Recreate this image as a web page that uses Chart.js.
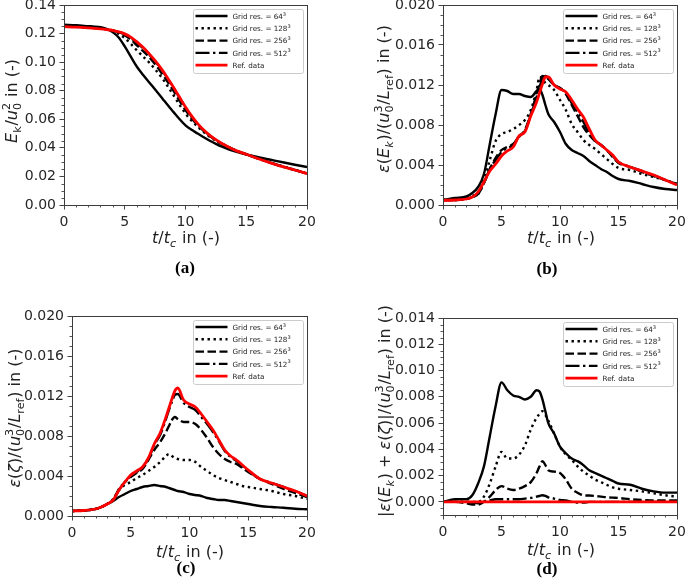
<!DOCTYPE html>
<html>
<head>
<meta charset="utf-8">
<script src="https://cdn.jsdelivr.net/npm/chart.js@4.4.1/dist/chart.umd.min.js"></script>
<style>
  body { margin: 0; background: #fff; }
  #fig { position: relative; width: 685px; height: 585px; overflow: hidden; }
  #fig canvas { position: absolute; }
</style>
</head>
<body>
<div id="fig">
  <canvas id="pa" width="342" height="290" style="left:0;top:0"></canvas>
  <canvas id="pb" width="343" height="290" style="left:342px;top:0"></canvas>
  <canvas id="pc" width="342" height="295" style="left:0;top:290px"></canvas>
  <canvas id="pd" width="343" height="295" style="left:342px;top:290px"></canvas>
</div>
<script>
// time samples t/t_c shared by every panel
const tSteps = [0, 1, 2, 2.5, 3, 3.5, 4, 4.5, 5, 5.5, 6, 6.5, 7, 7.5, 8, 8.25, 8.5, 8.75, 9,
  9.5, 10, 10.5, 11, 11.5, 12, 12.5, 13, 13.5, 14, 14.5, 15, 16, 17, 18, 19, 20];

// (a) kinetic energy
const kinE64  = [0.1262,0.1258,0.1252,0.1249,0.1244,0.1232,0.1210,0.1172, 0.1110,0.1038,0.0968,0.0912,0.0860,0.0808,0.0756, 0.0729,0.0703,0.0677,0.0652, 0.0602,0.0558,0.0526,0.0500,0.0474,0.0450,0.0428,0.0408,0.0391,0.0377,0.0365,0.0354, 0.0335,0.0317,0.0299,0.0282,0.0266];
const kinE128 = [0.1255,0.1252,0.1248,0.1245,0.1240,0.1232,0.1220,0.1198, 0.1168,0.1128,0.1082,0.1040,0.0998,0.0950,0.0897, 0.0868,0.0836,0.0803,0.0770, 0.0703,0.0640,0.0590,0.0548,0.0510,0.0477,0.0450,0.0426,0.0404,0.0385,0.0369,0.0355, 0.0326,0.0297,0.0271,0.0246,0.0222];
const kinE256 = [0.1252,0.1249,0.1245,0.1242,0.1238,0.1231,0.1222,0.1208, 0.1188,0.1158,0.1118,0.1078,0.1035,0.0985,0.0928, 0.0898,0.0866,0.0833,0.0800, 0.0730,0.0665,0.0608,0.0560,0.0518,0.0483,0.0454,0.0428,0.0406,0.0387,0.0370,0.0356, 0.0325,0.0296,0.0270,0.0245,0.0221];
const kinE512 = [0.1250,0.1247,0.1242,0.1239,0.1235,0.1230,0.1222,0.1210, 0.1195,0.1170,0.1135,0.1097,0.1054,0.1005,0.0950, 0.0920,0.0888,0.0855,0.0822, 0.0752,0.0682,0.0620,0.0566,0.0523,0.0486,0.0456,0.0429,0.0407,0.0387,0.0370,0.0355, 0.0324,0.0295,0.0268,0.0245,0.0220];
const kinERef = [0.1248,0.1245,0.1240,0.1237,0.1233,0.1228,0.1222,0.1212, 0.1198,0.1175,0.1142,0.1104,0.1060,0.1010,0.0955, 0.0925,0.0893,0.0860,0.0826, 0.0756,0.0686,0.0624,0.0570,0.0525,0.0488,0.0457,0.0430,0.0407,0.0387,0.0370,0.0355, 0.0324,0.0295,0.0268,0.0245,0.0220];

// (b) dissipation from kinetic energy
const dissK64  = [0.0005,0.0007,0.00085,0.0012,0.0018,0.0031,0.0061,0.0091, 0.0115,0.0114,0.0111,0.0111,0.0109,0.0108,0.0114, 0.0116,0.0110,0.0100,0.0091, 0.0083,0.0073,0.0061,0.0055,0.0052,0.0049,0.0044,0.0040,0.0036,0.0033,0.0029,0.0026, 0.0024,0.0021,0.0018,0.0016,0.0015];
const dissK128 = [0.0005,0.0006,0.0007,0.0009,0.0013,0.0025,0.0045,0.0064, 0.0071,0.0073,0.0076,0.0080,0.0085,0.0095,0.0115, 0.0128,0.0126,0.0122,0.0120, 0.0115,0.0105,0.0095,0.0081,0.0073,0.0065,0.0060,0.0056,0.0051,0.0046,0.0041,0.0037, 0.0035,0.0031,0.0028,0.0025,0.0021];
const dissK256 = [0.0005,0.0005,0.0006,0.0008,0.0011,0.0022,0.0036,0.0047, 0.0055,0.0058,0.0061,0.0068,0.0075,0.0091,0.0111, 0.0121,0.0129,0.0128,0.0126, 0.0120,0.0117,0.0111,0.0100,0.0089,0.0078,0.0070,0.0064,0.0060,0.0055,0.0048,0.0042, 0.0038,0.0033,0.0029,0.0025,0.0021];
const dissK512 = [0.0005,0.0005,0.0006,0.0008,0.0011,0.0022,0.0036,0.0045, 0.0053,0.0057,0.0060,0.0069,0.0074,0.0090,0.0108, 0.0118,0.0126,0.0129,0.0127, 0.0120,0.0117,0.0112,0.0102,0.0093,0.0083,0.0072,0.0064,0.0060,0.0055,0.0049,0.0043, 0.0038,0.0034,0.0030,0.0025,0.0021];
const dissKRef = [0.00047,0.0005,0.0006,0.0008,0.0013,0.0023,0.0034,0.0041, 0.0049,0.0054,0.0058,0.0069,0.0073,0.0089,0.0103, 0.0112,0.0121,0.0128,0.0128, 0.0120,0.0116,0.0113,0.0105,0.0096,0.0088,0.0076,0.0065,0.0060,0.0055,0.0050,0.0043, 0.0038,0.0034,0.0030,0.0025,0.0020];

// (c) dissipation from enstrophy
const dissZ64  = [0.0005,0.00055,0.0007,0.0009,0.0012,0.0015,0.0019,0.0022, 0.0025,0.0027,0.0029,0.0030,0.0031,0.0030,0.0029, 0.0028,0.0027,0.0026,0.0025, 0.0024,0.0022,0.0021,0.0020,0.0018,0.0017,0.0016,0.0016,0.0015,0.0014,0.0013,0.0012, 0.0010,0.0009,0.00083,0.00073,0.00067];
const dissZ128 = [0.0005,0.00055,0.0007,0.0009,0.0012,0.0017,0.0026,0.0031, 0.0034,0.0038,0.0041,0.0045,0.0049,0.0054,0.0060, 0.0062,0.0060,0.0058,0.0057, 0.0056,0.0056,0.0054,0.0049,0.0045,0.0041,0.0038,0.0036,0.0034,0.0032,0.0030,0.0029, 0.0027,0.0025,0.0022,0.0020,0.0017];
const dissZ256 = [0.0005,0.00055,0.0007,0.0009,0.0012,0.0016,0.0027,0.0034, 0.0039,0.0043,0.0047,0.0056,0.0066,0.0074,0.0084, 0.0090,0.0096,0.0099,0.0097, 0.0094,0.0094,0.0092,0.0086,0.0078,0.0069,0.0062,0.0057,0.0054,0.0052,0.0048,0.0044, 0.0037,0.0032,0.0027,0.0023,0.0019];
const dissZ512 = [0.0005,0.00055,0.0007,0.0009,0.0012,0.0016,0.0026,0.0034, 0.0040,0.0044,0.0049,0.0057,0.0071,0.0081,0.0097, 0.0106,0.0114,0.0121,0.0122, 0.0113,0.0109,0.0106,0.0099,0.0092,0.0084,0.0075,0.0065,0.0059,0.0055,0.0050,0.0045, 0.0037,0.0033,0.0029,0.0025,0.0020];
const dissZRef = [0.0005,0.00055,0.0007,0.0009,0.0012,0.0016,0.0026,0.0034, 0.0041,0.0045,0.0049,0.0058,0.0072,0.0083,0.0099, 0.0108,0.0117,0.0125,0.0128, 0.0116,0.0112,0.0109,0.0102,0.0094,0.0086,0.0076,0.0066,0.0060,0.0056,0.0051,0.0046, 0.0037,0.0033,0.0029,0.0025,0.0020];

// (d) |eps(Ek) + eps(zeta)|
const err64  = [0,0.0002,0.0002,0.0005,0.0014,0.0027,0.0050,0.0073, 0.0091,0.0085,0.0081,0.0080,0.0078,0.0080,0.0085, 0.0084,0.0078,0.0069,0.0060, 0.0052,0.0042,0.0037,0.0033,0.0031,0.0028,0.0024,0.0022,0.0020,0.0018,0.0016,0.0014, 0.0013,0.0010,0.0008,0.0007,0.0007];
const err128 = [0,0,0,0,0,0.0004,0.0014,0.0027, 0.0038,0.0033,0.0033,0.0036,0.0043,0.0055,0.0064, 0.0067,0.0069,0.0066,0.0062, 0.0052,0.0042,0.0036,0.0032,0.0027,0.0023,0.0020,0.0017,0.0015,0.0013,0.0011,0.0010, 0.0009,0.0008,0.00066,0.0005,0.0004];
const err256 = [0,0,-0.0001,-0.0002,-0.0002,0,0.0004,0.0009, 0.0012,0.0010,0.0009,0.0010,0.0012,0.0015,0.0022, 0.0027,0.0031,0.0028,0.0024, 0.0023,0.0022,0.0017,0.0010,0.0007,0.0005,0.00048,0.00045,0.0004,0.00035,0.00032,0.0003, 0.0002,0.00015,0.0001,0.0001,0.0001];
const err512 = [0,0,0,-0.00005,-0.0001,0,0.0001,0.0002, 0.0002,0.0002,0.0002,0.0002,0.00025,0.0003,0.0004, 0.00045,0.0005,0.00045,0.00035, 0.00025,0.00015,0.0001,0,-0.00005,-0.00005,0,0,0,0,0,0, 0,0,0,0,0];
const errRef = [0,0,0,0,0,0,0,0, 0,0,0,0,0,0,0, 0,0,0,0, 0,0,0,0,0,0,0,0,0,0,0,0, 0,0,0,0,0];

const seriesNames = ['64', '128', '256', '512', 'Ref. data'];

// tick values
const xTicks = [0, 5, 10, 15, 20];
const yTicksA = [0, 0.02, 0.04, 0.06, 0.08, 0.10, 0.12, 0.14];
const yTicksBC = [0, 0.004, 0.008, 0.012, 0.016, 0.020];
const yTicksD = [0, 0.002, 0.004, 0.006, 0.008, 0.010, 0.012, 0.014];

// line styles, same order as seriesNames
const lineStyles = [
  { color: '#000', width: 2.4, dash: [] },
  { color: '#000', width: 2.4, dash: [2.4, 3.6] },
  { color: '#000', width: 2.4, dash: [8.5, 3.5] },
  { color: '#000', width: 2.4, dash: [14, 3.5, 2.4, 3.5] },
  { color: '#ff0000', width: 2.8, dash: [] },
];

const FONT = 'DejaVu Sans';

// draw a run of text pieces with italics / sub / superscripts
// align: 'center' (default) or 'left'
function drawRich(ctx, parts, size, x, y, rotate, align) {
  const small = size * 0.7;
  const font = (s, it) => (it ? 'italic ' : '') + s + 'px "' + FONT + '"';
  const runs = [];
  let w = 0;
  parts.forEach(p => {
    if (p.t !== undefined) {
      ctx.font = font(size, p.i);
      const pw = ctx.measureText(p.t).width;
      runs.push({ text: p.t, f: font(size, p.i), x: w, dy: 0 });
      w += pw;
    } else {
      let pw = 0;
      if (p.sub) {
        ctx.font = font(small, p.i);
        pw = Math.max(pw, ctx.measureText(p.sub).width);
        runs.push({ text: p.sub, f: font(small, p.i), x: w, dy: size * 0.24 });
      }
      if (p.sup) {
        ctx.font = font(small, false);
        pw = Math.max(pw, ctx.measureText(p.sup).width);
        runs.push({ text: p.sup, f: font(small, false), x: w, dy: -size * 0.42 });
      }
      w += pw + size * 0.05;
    }
  });
  ctx.save();
  ctx.translate(x, y);
  if (rotate) ctx.rotate(-Math.PI / 2);
  ctx.textBaseline = 'alphabetic';
  ctx.textAlign = 'left';
  const x0 = align === 'left' ? 0 : -w / 2;
  const base = rotate ? size * 0.36 : 0;
  runs.forEach(r => {
    ctx.font = r.f;
    ctx.fillText(r.text, x0 + r.x, base + r.dy);
  });
  ctx.restore();
  return w;
}

const xTitle = [{ t: 't', i: 1 }, { t: '/' }, { t: 't', i: 1 }, { sub: 'c', i: 1 }, { t: ' in (-)' }];
const refScale = [{ t: '/(' }, { t: 'u', i: 1 }, { sub: '0', sup: '3' }, { t: '/' }, { t: 'L', i: 1 }, { sub: 'ref' }, { t: ') in (-)' }];

const panels = [
  {
    id: 'pa', series: [kinE64, kinE128, kinE256, kinE512, kinERef],
    area: { left: 64, top: 5, right: 307, bottom: 205 },
    yMin: 0, yMax: 0.14, yTicks: yTicksA, yMinor: 0.005, dec: 2,
    yTitle: [{ t: 'E', i: 1 }, { sub: 'k' }, { t: '/' }, { t: 'u', i: 1 }, { sub: '0', sup: '2' }, { t: ' in (-)' }],
    yTitleAt: [11, 101], xTitleAt: [186, 243], label: '(a)', labelAt: [185, 273],
  },
  {
    id: 'pb', series: [dissK64, dissK128, dissK256, dissK512, dissKRef],
    area: { left: 101, top: 5, right: 335, bottom: 205 },
    yMin: 0, yMax: 0.02, yTicks: yTicksBC, yMinor: 0.001, dec: 3,
    yTitle: [{ t: 'ε', i: 1 }, { t: '(' }, { t: 'E', i: 1 }, { sub: 'k', i: 1 }, { t: ')' }].concat(refScale),
    yTitleAt: [41, 99], xTitleAt: [219, 243], label: '(b)', labelAt: [205, 274],
  },
  {
    id: 'pc', series: [dissZ64, dissZ128, dissZ256, dissZ512, dissZRef],
    area: { left: 72, top: 26, right: 307, bottom: 226 },
    yMin: 0, yMax: 0.02, yTicks: yTicksBC, yMinor: 0.001, dec: 3,
    yTitle: [{ t: 'ε', i: 1 }, { t: '(' }, { t: 'ζ', i: 1 }, { t: ')' }].concat(refScale),
    yTitleAt: [14, 128], xTitleAt: [190, 267], label: '(c)', labelAt: [186, 283],
  },
  {
    id: 'pd', series: [err64, err128, err256, err512, errRef],
    area: { left: 101, top: 28, right: 335, bottom: 225 },
    yMin: -0.001, yMax: 0.014, yTicks: yTicksD, yMinor: 0.0005, dec: 3,
    yTitle: [{ t: '|' }, { t: 'ε', i: 1 }, { t: '(' }, { t: 'E', i: 1 }, { sub: 'k', i: 1 }, { t: ') + ' },
             { t: 'ε', i: 1 }, { t: '(' }, { t: 'ζ', i: 1 }, { t: ')|' }].concat(refScale),
    yTitleAt: [42, 121], xTitleAt: [219, 265], label: '(d)', labelAt: [205, 284],
  },
];

function isMajor(v, ticks) {
  return ticks.some(t => Math.abs(t - v) < 1e-9);
}

function decorPlugin(p) {
  return {
    id: 'decor',
    afterDraw(chart) {
      const ctx = chart.ctx, ca = chart.chartArea;
      const xs = chart.scales.x, ys = chart.scales.y;
      ctx.save();
      // minor ticks
      ctx.strokeStyle = '#555';
      ctx.lineWidth = 1;
      ctx.beginPath();
      for (let k = 0; k <= 20; k++) {
        if (isMajor(k, xTicks)) continue;
        const px = Math.round(xs.getPixelForValue(k)) + 0.5;
        ctx.moveTo(px, ca.bottom); ctx.lineTo(px, ca.bottom + 2.5);
      }
      const n = Math.round((p.yMax - p.yMin) / p.yMinor);
      for (let k = 0; k <= n; k++) {
        const v = p.yMin + k * p.yMinor;
        if (isMajor(v, p.yTicks)) continue;
        const py = Math.round(ys.getPixelForValue(v)) + 0.5;
        ctx.moveTo(ca.left, py); ctx.lineTo(ca.left - 2.5, py);
      }
      ctx.stroke();
      // frame
      ctx.strokeStyle = '#3c3c3c';
      ctx.strokeRect(Math.round(ca.left) + 0.5, Math.round(ca.top) + 0.5,
        Math.round(ca.right - ca.left), Math.round(ca.bottom - ca.top));

      // legend box in the upper right
      const bw = 110, bh = 64;
      const bx = Math.round(ca.right) - 4 - bw + 0.5, by = Math.round(ca.top) + 4 + 0.5;
      ctx.fillStyle = 'rgba(255,255,255,0.8)';
      ctx.strokeStyle = '#cccccc';
      ctx.beginPath();
      ctx.roundRect(bx, by, bw, bh, 2);
      ctx.fill(); ctx.stroke();
      seriesNames.forEach((name, i) => {
        const st = lineStyles[i];
        const ry = by + 6.5 + i * 12.3;
        ctx.strokeStyle = st.color;
        ctx.lineWidth = st.width;
        ctx.setLineDash(st.dash);
        ctx.beginPath();
        ctx.moveTo(bx + 2, ry); ctx.lineTo(bx + 34, ry);
        ctx.stroke();
        ctx.setLineDash([]);
        ctx.fillStyle = '#222';
        const parts = i < 4 ? [{ t: 'Grid res. = ' + name }, { sup: '3' }] : [{ t: name }];
        drawRich(ctx, parts, 7.2, bx + 39, ry + 2.6, false, 'left');
      });

      // axis titles
      ctx.fillStyle = '#222';
      drawRich(ctx, p.yTitle, 16, p.yTitleAt[0], p.yTitleAt[1], true);
      drawRich(ctx, xTitle, 16, p.xTitleAt[0], p.xTitleAt[1], false);

      // panel label
      ctx.font = 'bold 17px "Liberation Serif"';
      ctx.textAlign = 'center';
      ctx.textBaseline = 'alphabetic';
      ctx.fillStyle = '#000';
      ctx.fillText(p.label, p.labelAt[0], p.labelAt[1]);
      ctx.restore();
    }
  };
}

function makePanel(p) {
  const canvas = document.getElementById(p.id);
  const W = canvas.width, H = canvas.height;
  // later series on top, as in the original plot
  const datasets = p.series.map((vals, i) => ({
    label: seriesNames[i],
    data: tSteps.map((t, j) => ({ x: t, y: vals[j] })),
    borderColor: lineStyles[i].color,
    borderWidth: lineStyles[i].width,
    borderDash: lineStyles[i].dash,
    borderCapStyle: 'butt',
    pointRadius: 0,
    fill: false,
    cubicInterpolationMode: 'monotone',
    order: 4 - i,
  }));

  new Chart(canvas, {
    type: 'line',
    data: { datasets },
    options: {
      responsive: false,
      animation: false,
      devicePixelRatio: 1,
      layout: { padding: { left: 0, top: p.area.top, right: W - p.area.right, bottom: 0 } },
      plugins: { legend: { display: false }, tooltip: { enabled: false } },
      scales: {
        x: {
          type: 'linear', min: 0, max: 20,
          afterBuildTicks: s => { s.ticks = xTicks.map(v => ({ value: v })); },
          ticks: { color: '#262626', padding: 4, maxRotation: 0, autoSkip: false,
                   font: { family: FONT, size: 14 } },
          grid: { drawOnChartArea: false, tickLength: 4.5, tickColor: '#444' },
          border: { display: false },
          afterFit: s => { s.height = H - p.area.bottom; s.paddingLeft = 0; s.paddingRight = 0; },
        },
        y: {
          type: 'linear', min: p.yMin, max: p.yMax,
          afterBuildTicks: s => { s.ticks = p.yTicks.map(v => ({ value: v })); },
          ticks: { color: '#262626', padding: 3.5, autoSkip: false,
                   font: { family: FONT, size: 14 },
                   callback: v => Number(v).toFixed(p.dec) },
          grid: { drawOnChartArea: false, tickLength: 4.5, tickColor: '#444' },
          border: { display: false },
          afterFit: s => { s.width = p.area.left; s.paddingTop = 0; s.paddingBottom = 0; },
        },
      },
    },
    plugins: [decorPlugin(p)],
  });
}

panels.forEach(makePanel);
</script>
</body>
</html>
